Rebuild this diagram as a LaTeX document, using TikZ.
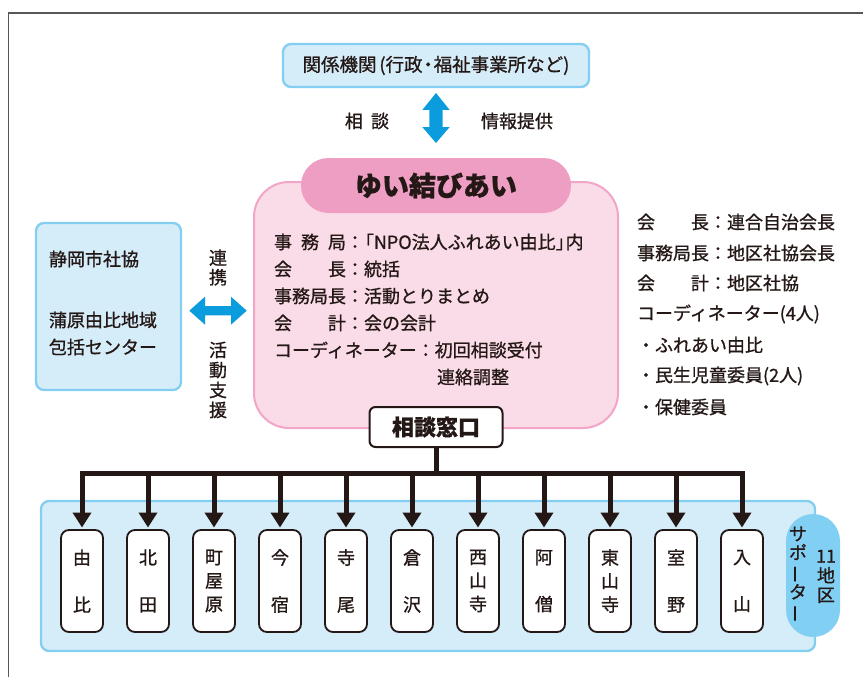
\documentclass[tikz,border=0pt]{standalone}
\usepackage{fontspec}
\setmainfont{Noto Sans CJK JP}[FakeBold=0.9]
\usepackage{graphicx}
\usetikzlibrary{arrows.meta,calc}
\definecolor{txt}{HTML}{231815}
\definecolor{bfill}{HTML}{D5ECF9}
\definecolor{bline}{HTML}{84CEF2}
\definecolor{pillblue}{HTML}{82CFF4}
\definecolor{pfill}{HTML}{FADCE8}
\definecolor{pline}{HTML}{F2A5C8}
\definecolor{ppill}{HTML}{EE9EC3}
\definecolor{arrblue}{HTML}{0A9CDD}
\definecolor{framecol}{HTML}{5A5656}
\newcommand\lbl[1]{\makebox[4em][s]{#1}}
\newcommand\vbar{\rotatebox[origin=c]{90}{ー}}
\begin{document}
\begin{tikzpicture}[x=1pt,y=-1pt,
  every node/.style={text=txt, inner sep=0pt, outer sep=0pt},
  bluebox/.style={draw=bline, fill=bfill, line width=2.3pt, rounded corners=8pt},
  body/.style={font=\fontsize{18}{22}\selectfont, anchor=west},
  vtext/.style={font=\fontsize{18}{#1}\selectfont, align=center},
  smallbox/.style={draw=txt, fill=white, line width=1.8pt, rounded corners=8pt,
    minimum width=42pt, minimum height=102pt,
    font=\fontsize{18}{23.5}\selectfont, align=center},
  treeline/.style={draw=txt, line width=5pt},
  treearrow/.style={draw=txt, line width=5pt, shorten >=2.5pt,
    -{Triangle[width=18pt,length=15pt]}},
  blockarrow/.style={fill=arrblue, draw=none},
]
\useasboundingbox (0,0) rectangle (863,677);
\draw[framecol, line width=1.6pt, line join=miter] (8.5,677) -- (8.5,13) -- (863,13);

% top box
\node[bluebox, minimum width=306pt, minimum height=43pt,
  font=\fontsize{18.5}{21}\selectfont] (kankei) at (436,65.5)
  {関係機関\kern0.15em(行政\kern-0.2em・\kern-0.2em福祉事業所など)};
\fill[blockarrow] (436,93) -- (449.7,110) -- (442.7,110) -- (442.7,127)
  -- (449.7,127) -- (436,143) -- (422.3,127) -- (429.3,127) -- (429.3,110)
  -- (422.3,110) -- cycle;
\node[body, anchor=center] (soudan) at (367,121) {相\hspace{0.45em}談};
\node[body, anchor=center] (jouhou) at (517,121) {情報提供};

% pink box
\node[draw=pline, fill=pfill, line width=2pt, rounded corners=35pt,
  minimum width=364pt, minimum height=246pt] (yui) at (436,305) {};
\node[fill=ppill, rounded corners=27.5pt, minimum width=270pt, minimum height=55pt,
  font=\bfseries\fontsize{27}{30}\selectfont] (title) at (436,185.5) {ゆい結びあい};
\node[body] (r1) at (274,242) {\lbl{事\hfill 務\hfill 局}：\kern-0.45em「NPO法人ふれあい由比」\kern-0.45em内};
\node[body] (r2) at (274,269) {\lbl{会\hfill 長}：統括};
\node[body] (r3) at (274,296) {\lbl{事務局長}：活動とりまとめ};
\node[body] (r4) at (274,323) {\lbl{会\hfill 計}：会の会計};
\node[body] (r5) at (274,350) {コーディネーター：初回相談受付};
\node[body] (r6) at (437,377) {連絡調整};

% madoguchi
\node[draw=txt, fill=white, line width=2pt, rounded corners=6pt,
  minimum width=133pt, minimum height=40pt,
  font=\bfseries\fontsize{22}{24}\selectfont] (madoguchi) at (436,427) {相談窓口};

% right text
\node[body] (s1) at (637,222) {\lbl{会\hfill 長}：連合自治会長};
\node[body] (s2) at (637,253) {\lbl{事務局長}：地区社協会長};
\node[body] (s3) at (637,283) {\lbl{会\hfill 計}：地区社協};
\node[body] (s4) at (637,314) {コーディネーター(4人)};
\node[body] (s5) at (637,345) {・ふれあい由比};
\node[body] (s6) at (637,376) {・民生児童委員(2人)};
\node[body] (s7) at (637,407) {・保健委員};

% left box
\node[bluebox, minimum width=145pt, minimum height=167pt] (shizu) at (108.5,306.5) {};
\node[body] (l1) at (49,259) {静岡市社協};
\node[body] (l2) at (49,320) {蒲原由比地域};
\node[body] (l3) at (49,347) {包括センター};
\fill[blockarrow] (189.3,310.7) -- (205,296.7) -- (205,306) -- (231,306)
  -- (231,296.7) -- (246.7,310.7) -- (231,324.7) -- (231,315.4) -- (205,315.4)
  -- (205,324.7) -- cycle;
\node[vtext=19.5] (renkei) at (218,267.5) {連\\携};
\node[vtext=20] (katsudo) at (218,380) {活\\動\\支\\援};

% bottom band
\node[bluebox, minimum width=774pt, minimum height=150pt] (band) at (428,576) {};
\node[fill=pillblue, rounded corners=27pt, minimum width=54pt, minimum height=123pt]
  (pill) at (813,575.5) {};
\node[vtext=19.5] (col1) at (826,576.5) {11\\地\\区};
\node[vtext=18.7] (col2) at (798,574.5) {サ\\ポ\\\vbar\\タ\\\vbar};

\node[smallbox] (b1) at (82,581) {由\\[23.5pt]比};
\node[smallbox] (b2) at (148,581) {北\\[23.5pt]田};
\node[smallbox] (b3) at (214,581) {町\\屋\\原};
\node[smallbox] (b4) at (280,581) {今\\[23.5pt]宿};
\node[smallbox] (b5) at (346,581) {寺\\[23.5pt]尾};
\node[smallbox] (b6) at (412,581) {倉\\[23.5pt]沢};
\node[smallbox] (b7) at (478,581) {西\\山\\寺};
\node[smallbox] (b8) at (544,581) {阿\\[23.5pt]僧};
\node[smallbox] (b9) at (610,581) {東\\山\\寺};
\node[smallbox] (b10) at (676,581) {室\\[23.5pt]野};
\node[smallbox] (b11) at (742,581) {入\\[23.5pt]山};

% tree
\coordinate (bar) at (436,473);
\draw[treeline] (madoguchi.south) -- (bar);
\draw[treeline, line cap=rect] (b1.north |- bar) -- (b11.north |- bar);
\foreach \i in {1,...,11} \draw[treearrow] (b\i.north |- bar) -- (b\i.north);
\end{tikzpicture}
\end{document}
